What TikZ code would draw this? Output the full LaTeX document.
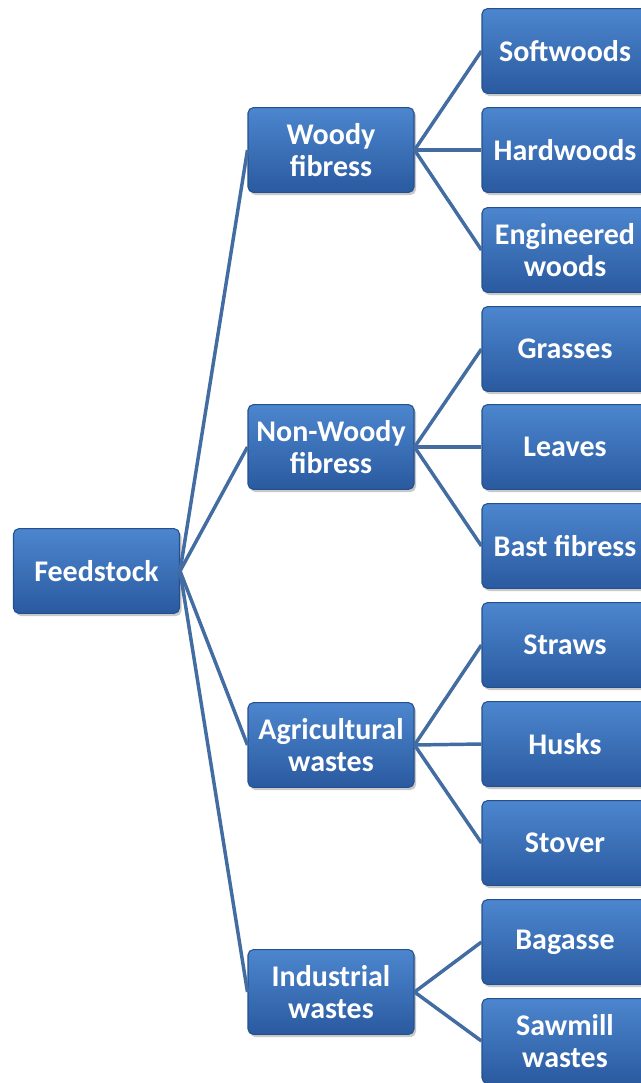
\documentclass[tikz,border=0pt]{standalone}
\usepackage{fontspec}
\setmainfont{Carlito}
\usetikzlibrary{shadows}
\definecolor{linecol}{RGB}{66,108,162}
\definecolor{boxtop}{RGB}{76,134,206}
\definecolor{boxbot}{RGB}{42,90,160}
\definecolor{boxdraw}{RGB}{36,80,142}
\tikzset{
  box/.style={rectangle, rounded corners=4pt, top color=boxtop, bottom color=boxbot,
    draw=boxdraw, line width=0.8pt, minimum width=124.5pt, minimum height=63.5pt,
    inner sep=0pt, align=center, text=white,
    font=\fontsize{22.5}{24.5}\selectfont\bfseries,
    drop shadow={shadow xshift=1.5pt, shadow yshift=-2pt, opacity=0.35, fill=black!60}},
  conn/.style={draw=linecol, line width=2.6pt}
}
\begin{document}
\begin{tikzpicture}[x=0.75pt, y=-0.75pt]
\clip (0,0) rectangle (641,1083);
\fill[white] (0,0) rectangle (641,1083);
\node[box] (root) at (96.5,571) {Feedstock};
\node[box] (w) at (331,150) {Woody\\fibress};
\node[box] (nw) at (331,447) {Non-Woody\\fibress};
\node[box] (ag) at (331,745) {Agricultural\\wastes};
\node[box] (in) at (331,992) {Industrial\\wastes};
\node[box] (s1) at (565,51) {Softwoods};
\node[box] (s2) at (565,150) {Hardwoods};
\node[box] (s3) at (565,250) {Engineered\\woods};
\node[box] (s4) at (565,349) {Grasses};
\node[box] (s5) at (565,447) {Leaves};
\node[box] (s6) at (565,546) {Bast fibress};
\node[box] (s7) at (565,645) {Straws};
\node[box] (s8) at (565,744) {Husks};
\node[box] (s9) at (565,843) {Stover};
\node[box] (s10) at (565,942) {Bagasse};
\node[box] (s11) at (565,1041) {Sawmill\\wastes};
\foreach \c in {w,nw,ag,in} \draw[conn] (root.east) -- (\c.west);
\foreach \c in {s1,s2,s3} \draw[conn] (w.east) -- (\c.west);
\foreach \c in {s4,s5,s6} \draw[conn] (nw.east) -- (\c.west);
\foreach \c in {s7,s8,s9} \draw[conn] (ag.east) -- (\c.west);
\foreach \c in {s10,s11} \draw[conn] (in.east) -- (\c.west);
\end{tikzpicture}
\end{document}
